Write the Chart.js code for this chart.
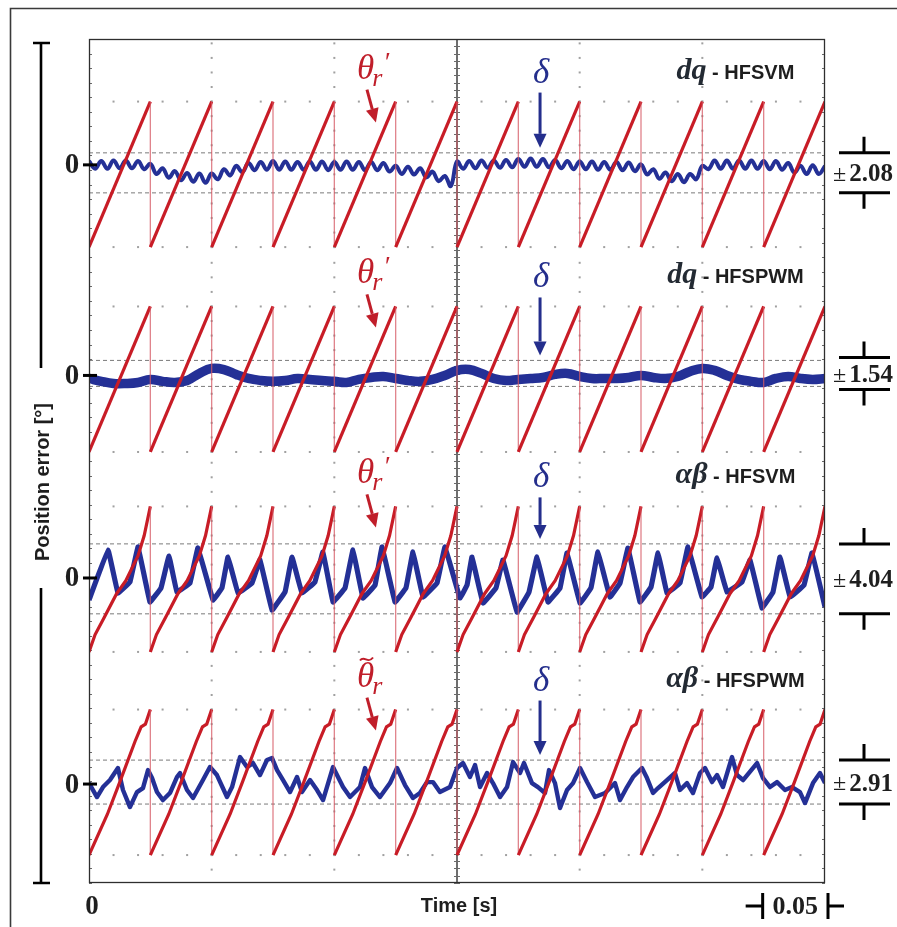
<!DOCTYPE html>
<html>
<head>
<meta charset="utf-8">
<title>Position error – dq / αβ, HFSVM / HFSPWM</title>
<style>
  html, body { margin: 0; padding: 0; background: #ffffff; }
  #wrap { width: 897px; height: 927px; position: relative; }
</style>
<script src="https://cdn.jsdelivr.net/npm/chart.js@4/dist/chart.umd.min.js"></script>
</head>
<body>
<div id="wrap"><canvas id="scope" width="897" height="927"></canvas></div>
<script>
// ---------------------------------------------------------------------------
// Data
// ---------------------------------------------------------------------------

// time window of the record, seconds
const timeWindow = [0, 0.6];

// instants where the estimated rotor angle wraps from 360° back to 0°
const wrapTimes = [0, 0.05, 0.10, 0.15, 0.20, 0.25, 0.30, 0.35, 0.40, 0.45, 0.50, 0.55, 0.60];

// shape of one electrical revolution of the angle: fraction of the period -> angle [°]
const rampFraction = [
  [0, 1],
  [0, 1],
  [0, 0.10, 0.25, 0.45, 0.60, 0.80, 0.90, 1],
  [0, 0.30, 0.50, 0.75, 0.85, 0.92, 1]
];
const rampAngle = [
  [0, 360],
  [0, 360],
  [0, 43, 86, 144, 176, 238, 288, 360],
  [0, 101, 180, 281, 317, 324, 360]
];

// panel captions
const schemeNames = ['dq', 'dq', 'αβ', 'αβ'];
const modulationNames = ['HFSVM', 'HFSPWM', 'HFSVM', 'HFSPWM'];

// peak position error of each case [°] and the middle of that band [°]
const errorBounds = [2.08, 1.54, 4.04, 2.91];
const boundCentres = [-0.83, 0.24, -0.10, 0.26];

// dq - HFSVM : position error [°], sampled every 5 ms
const dqSvmStep = 0.005;
const dqSvmError = [
  0.4, -0.4, 0.4, -0.4, 0.45, -0.35, 0.45, -0.35, 0.4, -0.45,
  0.1, -0.95, -0.35, -1.35, -0.65, -1.6, -0.85, -1.75, -0.9, -1.85,
  -0.9, -1.5, -0.45, -1.1, -0.1, -0.75, 0.2, -0.55, 0.3, -0.5,
  0.4, -0.5, 0.35, -0.5, 0.3, -0.5, 0.35, -0.5, 0.35, -0.55,
  0.3, -0.5, 0.35, -0.5, 0.3, -0.55, 0.3, -0.55, 0.2, -0.7,
  -0.1, -0.95, -0.2, -1.0, -0.35, -1.3, -0.7, -1.7, -1.15, -2.2,
  0.35, -0.4, 0.4, -0.35, 0.45, -0.3, 0.45, -0.3, 0.5, -0.25,
  0.6, -0.2, 0.65, -0.2, 0.6, -0.25, 0.5, -0.35, 0.4, -0.45,
  0.35, -0.45, 0.35, -0.5, 0.3, -0.5, 0.3, -0.55, 0.25, -0.65,
  0.05, -1.0, -0.45, -1.45, -0.8, -1.7, -0.95, -1.8, -0.95, -1.5,
  -0.1, -0.45, 0.45, -0.4, 0.45, -0.4, 0.45, -0.4, 0.45, -0.4,
  0.4, -0.45, 0.4, -0.5, 0.2, -0.8, -0.1, -0.95, -0.05, -0.95,
  -0.1
];

// dq - HFSPWM : position error [°], sampled every 10 ms
const dqPwmStep = 0.01;
const dqPwmError = [
  -0.36, -0.70, -0.95, -0.95, -0.83, -0.47, -0.70, -0.83, -0.60, 0.24,
  0.83, 0.70, 0.12, -0.36, -0.60, -0.70, -0.60, -0.36, -0.47, -0.60,
  -0.70, -0.83, -0.47, -0.24, -0.12, -0.36, -0.60, -0.70, -0.47, 0.00,
  0.60, 0.70, 0.24, -0.36, -0.60, -0.47, -0.36, -0.24, 0.12, 0.24,
  -0.12, -0.36, -0.36, -0.36, -0.24, 0.00, -0.24, -0.36, -0.12, 0.47,
  0.83, 0.60, 0.00, -0.47, -0.70, -0.83, -0.36, -0.12, -0.36, -0.47,
  -0.36
];

// αβ - HFSVM : position error [°] at irregular instants [s]
const abSvmTime = [
  0.0000, 0.0155, 0.0236, 0.0334, 0.0400, 0.0497, 0.0587, 0.0652, 0.0717, 0.0823,
  0.0888, 0.1011, 0.1084, 0.1133, 0.1215, 0.1329, 0.1394, 0.1492, 0.1598, 0.1655,
  0.1736, 0.1842, 0.1907, 0.1989, 0.2087, 0.2152, 0.2234, 0.2332, 0.2389, 0.2495,
  0.2584, 0.2641, 0.2723, 0.2837, 0.2902, 0.3024, 0.3082, 0.3122, 0.3212, 0.3318,
  0.3375, 0.3489, 0.3587, 0.3652, 0.3742, 0.3840, 0.3897, 0.4003, 0.4092, 0.4149,
  0.4247, 0.4329, 0.4394, 0.4492, 0.4582, 0.4639, 0.4712, 0.4818, 0.4883, 0.4997,
  0.5071, 0.5120, 0.5201, 0.5323, 0.5389, 0.5486, 0.5576, 0.5633, 0.5715, 0.5829,
  0.5894, 0.6000
];
const abSvmError = [
  -2.54, 3.23, -1.73, -0.46, 3.58, -2.77, -1.15, 2.54, -1.62, -0.58,
  3.46, -2.54, -1.15, 2.42, -1.73, -0.58, 2.08, -3.70, -1.62, 2.42,
  -1.73, -0.46, 3.00, -2.77, -1.15, 3.23, -2.31, -0.81, 3.58, -2.77,
  -1.15, 3.00, -2.19, -0.58, 3.58, -2.31, -0.81, 2.42, -2.89, -1.15,
  2.08, -3.93, -1.62, 2.42, -2.77, -1.15, 2.89, -2.89, -1.15, 3.00,
  -2.19, -0.58, 3.46, -2.77, -1.04, 2.89, -1.73, -0.58, 3.58, -2.19,
  -1.04, 2.31, -1.62, -0.46, 2.08, -3.46, -1.62, 2.42, -2.19, -0.81,
  2.89, -3.35
];

// αβ - HFSPWM : position error [°] at irregular instants [s]
const abPwmTime = [
  0.0000, 0.0065, 0.0114, 0.0171, 0.0236, 0.0277, 0.0334, 0.0391, 0.0440, 0.0481,
  0.0514, 0.0554, 0.0603, 0.0660, 0.0717, 0.0742, 0.0799, 0.0848, 0.0929, 0.0986,
  0.1043, 0.1125, 0.1166, 0.1231, 0.1288, 0.1337, 0.1394, 0.1451, 0.1492, 0.1533,
  0.1582, 0.1639, 0.1696, 0.1736, 0.1802, 0.1859, 0.1908, 0.1989, 0.2071, 0.2128,
  0.2209, 0.2250, 0.2307, 0.2372, 0.2454, 0.2511, 0.2576, 0.2641, 0.2698, 0.2755,
  0.2804, 0.2861, 0.2943, 0.3000, 0.3049, 0.3106, 0.3147, 0.3188, 0.3245, 0.3293,
  0.3351, 0.3408, 0.3457, 0.3514, 0.3546, 0.3611, 0.3660, 0.3717, 0.3750, 0.3799,
  0.3840, 0.3897, 0.3946, 0.4003, 0.4060, 0.4125, 0.4207, 0.4288, 0.4329, 0.4386,
  0.4435, 0.4508, 0.4549, 0.4598, 0.4639, 0.4712, 0.4777, 0.4818, 0.4875, 0.4924,
  0.4981, 0.5022, 0.5079, 0.5120, 0.5168, 0.5242, 0.5283, 0.5332, 0.5446, 0.5495,
  0.5552, 0.5609, 0.5674, 0.5731, 0.5796, 0.5837, 0.5902, 0.5959, 0.6000
];
const abPwmError = [
  0.13, -1.72, -0.40, 0.53, 2.12, -0.79, -3.05, -1.06, -0.53, 1.85,
  0.79, -1.06, -2.12, -1.19, 0.93, 1.46, -0.79, -1.85, 0.53, 2.25,
  1.19, -1.72, -0.40, 3.58, 2.25, 2.78, 1.19, 3.18, 3.44, 1.85,
  0.53, -1.06, 0.93, -1.06, 0.53, -0.79, -2.12, 2.25, -0.40, -1.72,
  -0.40, 2.12, -0.40, -1.72, 0.13, 2.12, -0.13, -1.85, -1.19, 0.26,
  0.26, -1.06, -0.40, 2.12, 2.78, 0.93, 2.52, -0.40, 1.46, 0.13,
  -1.72, -0.40, 2.91, 1.46, 2.78, 0.13, -0.40, -1.19, 1.85, 0.13,
  -3.18, -0.79, 0.13, 2.12, 0.26, -1.72, -1.19, 0.13, -2.12, -0.40,
  0.93, 2.12, 0.79, -1.19, -0.53, 0.53, 1.46, -0.79, 0.13, -1.19,
  1.46, 2.12, 0.26, 1.19, -0.40, 3.58, 1.19, 0.53, 2.78, 0.79,
  -0.40, 0.26, -0.79, -0.40, -1.06, -2.52, 0.13, 1.46, 0.13
];

// ---------------------------------------------------------------------------
// Screen layout: the vertical axis counts grid divisions from the bottom edge
// ---------------------------------------------------------------------------
const SCREEN_DIVS = 58;
const RAMP_SPAN = 10;               // divisions covered by one 0..360° ramp
const panelLayout = [
  { base: 43.70, zero: 49.35, divPerDeg: 0.661, trace: 4.0, tension: 0.4 },
  { base: 29.62, zero: 34.88, divPerDeg: 0.580, trace: 9.5, tension: 0.4 },
  { base: 15.88, zero: 20.96, divPerDeg: 0.595, trace: 5.2, tension: 0.05 },
  { base: 1.92,  zero: 6.80,  divPerDeg: 0.519, trace: 4.4, tension: 0 }
];

const RED = 'rgb(200,28,38)';
const RED_FLYBACK = 'rgba(214,90,100,0.75)';
const BLUE = 'rgb(36,48,150)';
const LABEL_RED = 'rgb(192,30,42)';
const LABEL_BLUE = 'rgb(36,46,140)';
const INK = '#1e1e1e';

// ---------------------------------------------------------------------------
// Series construction
// ---------------------------------------------------------------------------
function angleSeries(panelIdx) {
  const L = panelLayout[panelIdx];
  const fr = rampFraction[panelIdx], an = rampAngle[panelIdx];
  const level = a => L.base + a / 360 * RAMP_SPAN;
  const pts = [];
  for (let k = 0; k < wrapTimes.length; k++) {
    const t = wrapTimes[k];
    pts.push({ x: t, y: level(360) });
    pts.push({ x: t, y: level(0) });
    if (k < wrapTimes.length - 1) {
      const T = wrapTimes[k + 1] - t;
      for (let j = 1; j < fr.length - 1; j++) pts.push({ x: t + fr[j] * T, y: level(an[j]) });
    }
  }
  return pts;
}

function errorSeries(panelIdx, times, values) {
  const L = panelLayout[panelIdx];
  return values.map((v, i) => ({ x: times[i], y: L.zero + v * L.divPerDeg }));
}
const uniformTimes = (step, n) => Array.from({ length: n }, (_, i) => +(i * step).toFixed(4));

const errorTraces = [
  errorSeries(0, uniformTimes(dqSvmStep, dqSvmError.length), dqSvmError),
  errorSeries(1, uniformTimes(dqPwmStep, dqPwmError.length), dqPwmError),
  errorSeries(2, abSvmTime, abSvmError),
  errorSeries(3, abPwmTime, abPwmError)
];

const boundLevel = (i, sign) => panelLayout[i].zero + (boundCentres[i] + sign * errorBounds[i]) * panelLayout[i].divPerDeg;

const datasets = [];
panelLayout.forEach((L, i) => {
  datasets.push({
    label: 'θ ' + schemeNames[i] + ' ' + modulationNames[i],
    data: angleSeries(i),
    order: 0,
    borderColor: RED,
    borderWidth: 3.2,
    tension: 0,
    pointRadius: 0,
    segment: {
      borderWidth: c => (c.p0.parsed.x === c.p1.parsed.x ? 1.3 : 3.2),
      borderColor: c => (c.p0.parsed.x === c.p1.parsed.x ? RED_FLYBACK : RED)
    }
  });
  datasets.push({
    label: 'δ ' + schemeNames[i] + ' ' + modulationNames[i],
    data: errorTraces[i],
    order: 1,
    borderColor: BLUE,
    borderWidth: L.trace,
    borderJoinStyle: 'round',
    tension: L.tension,
    pointRadius: 0
  });
  [1, -1].forEach(s => datasets.push({
    label: 'bound',
    data: [{ x: timeWindow[0], y: boundLevel(i, s) }, { x: timeWindow[1], y: boundLevel(i, s) }],
    order: 2,
    borderColor: '#7a7a7a',
    borderWidth: 1,
    borderDash: [4, 3],
    pointRadius: 0
  }));
});

// ---------------------------------------------------------------------------
// Scope graticule (dots, centre axis, border ticks)
// ---------------------------------------------------------------------------
const graticule = {
  id: 'graticule',
  beforeDatasetsDraw(chart) {
    const { ctx, chartArea: a, scales: { x, y } } = chart;
    ctx.save();
    ctx.fillStyle = '#a0a0a0';
    const dot = (px, py) => { if (py >= a.top && py <= a.bottom) ctx.fillRect(px - 1, py - 1, 2, 2); };
    panelLayout.forEach((L, i) => {
      [L.base, L.base + RAMP_SPAN].forEach(v => {
        for (let j = 1; j < 30; j++) dot(x.getPixelForValue(j * 0.02), y.getPixelForValue(v));
      });
      const kFrom = i === panelLayout.length - 1 ? -1 : 0;
      const kTo = i === 0 ? 15 : 13;
      [0.1, 0.2, 0.4, 0.5].forEach(t => {
        for (let k = kFrom; k <= kTo; k++) dot(x.getPixelForValue(t), y.getPixelForValue(L.base + k));
      });
    });
    // centre time axis with fine ticks
    const cx = x.getPixelForValue((timeWindow[0] + timeWindow[1]) / 2);
    ctx.strokeStyle = '#4a4a4a';
    ctx.lineWidth = 1.6;
    ctx.beginPath(); ctx.moveTo(cx, a.top); ctx.lineTo(cx, a.bottom); ctx.stroke();
    ctx.lineWidth = 1;
    ctx.strokeStyle = '#6a6a6a';
    ctx.beginPath();
    for (let v = 0; v <= SCREEN_DIVS; v += 0.5) {
      const py = Math.round(y.getPixelForValue(v)) + 0.5;
      ctx.moveTo(cx - 3, py); ctx.lineTo(cx + 3, py);
    }
    // small ticks along the side borders
    for (let v = 0; v <= SCREEN_DIVS; v += 1) {
      const py = Math.round(y.getPixelForValue(v)) + 0.5;
      ctx.moveTo(a.left, py); ctx.lineTo(a.left + 3, py);
      ctx.moveTo(a.right - 3, py); ctx.lineTo(a.right, py);
    }
    ctx.stroke();
    ctx.restore();
  }
};

// ---------------------------------------------------------------------------
// Frame, captions, symbols and scale marks
// ---------------------------------------------------------------------------
function arrow(ctx, x0, y0, x1, y1, color) {
  const ang = Math.atan2(y1 - y0, x1 - x0);
  const head = 14, half = 6.5;
  const bx = x1 - head * Math.cos(ang), by = y1 - head * Math.sin(ang);
  ctx.strokeStyle = color; ctx.fillStyle = color; ctx.lineWidth = 3;
  ctx.beginPath(); ctx.moveTo(x0, y0); ctx.lineTo(bx, by); ctx.stroke();
  ctx.beginPath();
  ctx.moveTo(x1, y1);
  ctx.lineTo(bx + half * Math.sin(ang), by - half * Math.cos(ang));
  ctx.lineTo(bx - half * Math.sin(ang), by + half * Math.cos(ang));
  ctx.closePath(); ctx.fill();
}

function drawTheta(ctx, x, baseline, withTilde) {
  ctx.fillStyle = LABEL_RED;
  ctx.textAlign = 'left';
  ctx.textBaseline = 'alphabetic';
  ctx.font = 'italic 35px "Liberation Serif"';
  ctx.fillText('θ', x, baseline);
  const w = ctx.measureText('θ').width;
  ctx.font = 'italic 26px "Liberation Serif"';
  ctx.fillText('r', x + w - 2, baseline + 7);
  if (withTilde) {
    ctx.strokeStyle = LABEL_RED;
    ctx.lineWidth = 2;
    const tx = x + 3, ty = baseline - 28;
    ctx.beginPath();
    ctx.moveTo(tx, ty + 2);
    ctx.bezierCurveTo(tx + 4, ty - 4, tx + 8, ty + 6, tx + 13, ty - 1);
    ctx.stroke();
  } else {
    ctx.font = 'italic 27px "Liberation Serif"';
    ctx.fillText('′', x + w + 9, baseline - 8);
  }
}

const annotations = {
  id: 'annotations',
  afterDraw(chart) {
    const { ctx, chartArea: a, scales: { x, y } } = chart;
    const X = t => x.getPixelForValue(t);
    const Y = v => y.getPixelForValue(v);
    ctx.save();

    // outer frame
    ctx.strokeStyle = '#3a3a3a';
    ctx.lineWidth = 1.6;
    ctx.beginPath();
    ctx.moveTo(10.5, 927); ctx.lineTo(10.5, 8.5); ctx.lineTo(897, 8.5);
    ctx.stroke();

    // plot border
    ctx.strokeStyle = '#2e2e2e';
    ctx.lineWidth = 1.3;
    ctx.strokeRect(a.left + 0.5, a.top + 0.5, a.right - a.left - 1, a.bottom - a.top - 1);

    // vertical axis bracket with its title
    const bx = a.left - 48;
    const titleY = (a.top + a.bottom) / 2 + 19;
    ctx.strokeStyle = '#000';
    ctx.lineWidth = 2.6;
    ctx.beginPath();
    ctx.moveTo(bx - 8, a.top + 4); ctx.lineTo(bx + 9, a.top + 4);
    ctx.moveTo(bx, a.top + 4); ctx.lineTo(bx, titleY - 112);
    ctx.moveTo(bx, titleY + 108); ctx.lineTo(bx, a.bottom);
    ctx.moveTo(bx - 8, a.bottom); ctx.lineTo(bx + 9, a.bottom);
    ctx.stroke();
    ctx.save();
    ctx.translate(bx + 2, titleY + 2);
    ctx.rotate(-Math.PI / 2);
    ctx.fillStyle = INK;
    ctx.font = 'bold 20px "Liberation Sans"';
    ctx.textAlign = 'center';
    ctx.textBaseline = 'middle';
    ctx.fillText('Position error [°]', 0, 0);
    ctx.restore();

    panelLayout.forEach((L, i) => {
      const top = Y(L.base + RAMP_SPAN);
      const zy = Y(L.zero);

      // zero marker
      ctx.strokeStyle = '#000';
      ctx.lineWidth = 3;
      ctx.beginPath(); ctx.moveTo(a.left - 6, zy); ctx.lineTo(a.left + 8, zy); ctx.stroke();
      ctx.fillStyle = INK;
      ctx.font = 'bold 29px "Liberation Serif"';
      ctx.textAlign = 'center';
      ctx.textBaseline = 'middle';
      ctx.fillText('0', a.left - 17, zy + 1);

      // caption: scheme - modulation
      ctx.textBaseline = 'alphabetic';
      ctx.textAlign = 'left';
      const capA = schemeNames[i], capB = ' - ' + modulationNames[i];
      ctx.font = 'italic bold 30px "Liberation Serif"';
      const wA = ctx.measureText(capA).width;
      ctx.font = 'bold 20px "Liberation Sans"';
      const wB = ctx.measureText(capB).width;
      const cx0 = X(0.527) - (wA + wB) / 2;
      const capBase = top - 23;
      ctx.fillStyle = '#232a33';
      ctx.font = 'italic bold 30px "Liberation Serif"';
      ctx.fillText(capA, cx0, capBase);
      ctx.fillStyle = INK;
      ctx.font = 'bold 20px "Liberation Sans"';
      ctx.fillText(capB, cx0 + wA, capBase);

      // angle symbol and arrow
      drawTheta(ctx, X(0.2185), top - 23, i === 3);
      arrow(ctx, X(0.2266), top - 12, X(0.2339), top + 21, LABEL_RED);

      // error symbol and arrow
      ctx.fillStyle = LABEL_BLUE;
      ctx.font = 'italic 35px "Liberation Serif"';
      ctx.textAlign = 'center';
      ctx.textBaseline = 'alphabetic';
      ctx.fillText('δ', X(0.3685), top - 19);
      arrow(ctx, X(0.3677), top - 9, X(0.3677), Y(boundLevel(i, 1)) - 5, LABEL_BLUE);

      // bound markers on the right
      let yHi = Y(boundLevel(i, 1)), yLo = Y(boundLevel(i, -1));
      const mid = (yHi + yLo) / 2;
      if (yLo - yHi < 32) { yHi = mid - 16; yLo = mid + 16; }
      const r0 = a.right + 14, r1 = a.right + 65, rc = a.right + 39;
      ctx.strokeStyle = '#000';
      ctx.lineWidth = 3;
      ctx.beginPath();
      ctx.moveTo(r0, yHi); ctx.lineTo(r1, yHi);
      ctx.moveTo(rc, yHi); ctx.lineTo(rc, yHi - 16);
      ctx.moveTo(r0, yLo); ctx.lineTo(r1, yLo);
      ctx.moveTo(rc, yLo); ctx.lineTo(rc, yLo + 16);
      ctx.stroke();
      ctx.fillStyle = INK;
      ctx.textAlign = 'left';
      ctx.textBaseline = 'middle';
      ctx.font = '24px "Liberation Serif"';
      ctx.fillText('±', a.right + 8, mid + 2);
      const wpm = ctx.measureText('± ').width;
      ctx.font = 'bold 25px "Liberation Serif"';
      ctx.fillText(errorBounds[i].toFixed(2), a.right + 5 + wpm, mid + 2);
    });

    // time axis labels
    const ly = a.bottom + 23;
    ctx.fillStyle = INK;
    ctx.textAlign = 'center';
    ctx.textBaseline = 'middle';
    ctx.font = 'bold 27px "Liberation Serif"';
    ctx.fillText(String(timeWindow[0]), X(timeWindow[0]) + 3, ly + 1);
    ctx.font = 'bold 20px "Liberation Sans"';
    ctx.fillText('Time [s]', X(0.3) + 2, ly);

    // 0.05 s scale mark
    const s0 = X(timeWindow[1] - 0.05) - 1, s1 = X(timeWindow[1]) + 3;
    ctx.strokeStyle = '#000';
    ctx.lineWidth = 3;
    ctx.beginPath();
    ctx.moveTo(s0 - 17, ly); ctx.lineTo(s0, ly);
    ctx.moveTo(s0, ly - 13); ctx.lineTo(s0, ly + 13);
    ctx.moveTo(s1, ly - 13); ctx.lineTo(s1, ly + 13);
    ctx.moveTo(s1, ly); ctx.lineTo(s1 + 16, ly);
    ctx.stroke();
    ctx.font = 'bold 26px "Liberation Serif"';
    ctx.fillText('0.05', (s0 + s1) / 2, ly + 1);

    ctx.restore();
  }
};

// ---------------------------------------------------------------------------
// Chart
// ---------------------------------------------------------------------------
new Chart(document.getElementById('scope'), {
  type: 'line',
  data: { datasets },
  options: {
    responsive: false,
    animation: false,
    devicePixelRatio: 1,
    events: [],
    layout: { padding: { left: 89, right: 72, top: 39, bottom: 44 } },
    scales: {
      x: { type: 'linear', min: timeWindow[0], max: timeWindow[1], display: false },
      y: { type: 'linear', min: 0, max: SCREEN_DIVS, display: false }
    },
    plugins: { legend: { display: false }, tooltip: { enabled: false } }
  },
  plugins: [graticule, annotations]
});
</script>
</body>
</html>
